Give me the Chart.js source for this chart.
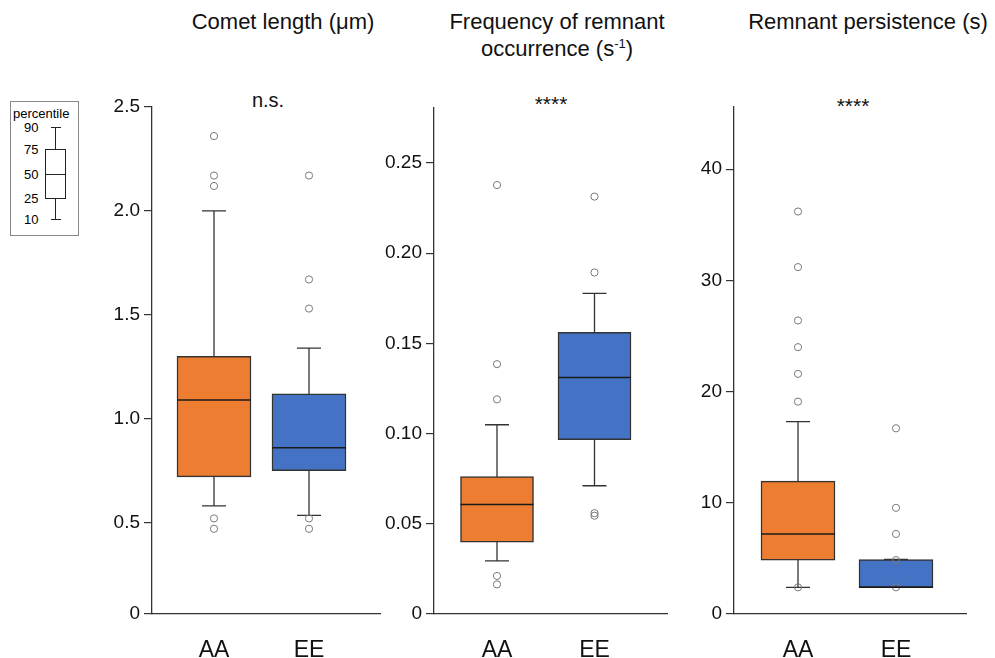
<!DOCTYPE html>
<html>
<head>
<meta charset="utf-8">
<script src="https://cdn.jsdelivr.net/npm/chart.js@4.4.0/dist/chart.umd.min.js"></script>
<style>
  body { margin: 0; width: 995px; height: 658px; position: relative; overflow: hidden; background: #fff;
         font-family: "Liberation Sans", Arial, sans-serif; color: #111; }
  .panel { position: absolute; top: 60px; height: 598px; }
  .titulo { position: absolute; font-size: 22px; line-height: 28px; text-align: center; white-space: nowrap; }
  .signo { position: absolute; font-size: 21px; line-height: 20px; text-align: center; white-space: nowrap; }
  .ley { position: absolute; font-size: 13px; line-height: 13px; color: #000; }
  .linea { position: absolute; background: #222; }
</style>
</head>
<body>

<!-- titulos -->
<div class="titulo" style="left:183px; top:8px; width:200px;">Comet length (μm)</div>
<div class="titulo" style="left:437px; top:8px; width:240px;">Frequency of remnant</div>
<div class="titulo" style="left:437px; top:35px; width:240px;">occurrence (s<span style="font-size:13px; position:relative; top:-8px;">-1</span>)</div>
<div class="titulo" style="left:743px; top:8px; width:250px;">Remnant persistence (s)</div>

<div class="signo" style="left:238px; top:90px; width:60px; font-size:20px;">n.s.</div>
<div class="signo" style="left:521px; top:94px; width:60px;">****</div>
<div class="signo" style="left:823px; top:96px; width:60px;">****</div>

<!-- leyenda de percentiles -->
<div style="position:absolute; left:10px; top:101px; width:67px; height:133px; border:1px solid #888;"></div>
<div class="ley" style="left:13px; top:107px;">percentile</div>
<div class="ley" style="left:24px; top:121px;">90</div>
<div class="ley" style="left:24px; top:143px;">75</div>
<div class="ley" style="left:24px; top:168px;">50</div>
<div class="ley" style="left:24px; top:192px;">25</div>
<div class="ley" style="left:24px; top:213px;">10</div>
<div class="linea" style="left:55px; top:128px; width:1px; height:92px;"></div>
<div class="linea" style="left:51px; top:127px; width:10px; height:1px;"></div>
<div class="linea" style="left:51px; top:219px; width:10px; height:1px;"></div>
<div style="position:absolute; left:45px; top:149px; width:19px; height:48px; border:1px solid #222; background:#fff;"></div>
<div class="linea" style="left:45px; top:174px; width:21px; height:1px;"></div>

<canvas id="chart-comet" class="panel"></canvas>
<canvas id="chart-frecuencia" class="panel"></canvas>
<canvas id="chart-persistencia" class="panel"></canvas>

<script>
'use strict';

// ====================
//  Datos
// ====================
const grupos = ['AA', 'EE'];
const coloresGrupo = ['#ED7D31', '#4472C4'];

// Comet length (µm)
const cometP10 = [0.58, 0.535];
const cometP25 = [0.72, 0.75];
const cometP50 = [1.09, 0.86];
const cometP75 = [1.30, 1.12];
const cometP90 = [2.00, 1.34];
const cometOutAA = [2.36, 2.17, 2.12, 0.52, 0.47];
const cometOutEE = [2.17, 1.67, 1.53, 0.52, 0.47];
const cometTicks = [0.06, 0.5, 1.0, 1.5, 2.0, 2.5];
const cometTickLabels = ['0', '0.5', '1.0', '1.5', '2.0', '2.5'];

// Frequency of remnant occurrence (s-1)
const frecP10 = [0.0295, 0.0711];
const frecP25 = [0.0398, 0.0967];
const frecP50 = [0.0607, 0.1311];
const frecP75 = [0.0762, 0.1561];
const frecP90 = [0.1049, 0.1777];
const frecOutAA = [0.2378, 0.1385, 0.1190, 0.0211, 0.0164];
const frecOutEE = [0.2314, 0.1893, 0.0559, 0.0545];
const frecTicks = [0, 0.05, 0.10, 0.15, 0.20, 0.25];
const frecTickLabels = ['0', '0.05', '0.10', '0.15', '0.20', '0.25'];

// Remnant persistence (s)
const persP10 = [2.4, 2.4];
const persP25 = [4.85, 2.4];
const persP50 = [7.2, 2.4];
const persP75 = [11.95, 4.9];
const persP90 = [17.3, 4.9];
const persOutAA = [36.2, 31.2, 26.4, 24.0, 21.6, 19.1, 2.4];
const persOutEE = [16.7, 9.55, 7.2, 4.85, 2.4];
const persTicks = [0, 10, 20, 30, 40];
const persTickLabels = ['0', '10', '20', '30', '40'];

// ====================
//  Plugin bigotes + mediana
// ====================
const pluginCajas = {
  id: 'cajas',
  beforeDatasetsDraw(chart, args, opts) {
    const ctx = chart.ctx;
    const xs = chart.scales.x;
    const ys = chart.scales.y;
    ctx.save();
    ctx.strokeStyle = '#333';
    ctx.lineWidth = 1.3;
    grupos.forEach(function (g, i) {
      const x = xs.getPixelForValue(i);
      const yBajo = ys.getPixelForValue(opts.p10[i]);
      const yAlto = ys.getPixelForValue(opts.p90[i]);
      ctx.beginPath();
      ctx.moveTo(x, yBajo);
      ctx.lineTo(x, yAlto);
      ctx.moveTo(x - 12, yBajo);
      ctx.lineTo(x + 12, yBajo);
      ctx.moveTo(x - 12, yAlto);
      ctx.lineTo(x + 12, yAlto);
      ctx.stroke();
    });
    ctx.restore();
  },
  afterDatasetsDraw(chart, args, opts) {
    const ctx = chart.ctx;
    const xs = chart.scales.x;
    const ys = chart.scales.y;
    ctx.save();
    ctx.strokeStyle = '#1a1a1a';
    ctx.lineWidth = 1.5;
    grupos.forEach(function (g, i) {
      const x = xs.getPixelForValue(i);
      const y = ys.getPixelForValue(opts.p50[i]);
      ctx.beginPath();
      ctx.moveTo(x - opts.ancho / 2, y);
      ctx.lineTo(x + opts.ancho / 2, y);
      ctx.stroke();
    });
    ctx.restore();
  }
};

// ====================
//  Construccion de cada panel
// ====================
function crearPanel(idCanvas, cfg) {
  const canvas = document.getElementById(idCanvas);
  const izq = 80;
  const der = 10;
  const anchoCanvas = cfg.areaDer - cfg.areaIzq + izq + der;
  canvas.style.left = (cfg.areaIzq - izq) + 'px';
  canvas.style.width = anchoCanvas + 'px';
  canvas.width = anchoCanvas;
  canvas.height = 598;

  const cajas = grupos.map(function (g, i) {
    return { x: i, y: [cfg.p25[i], cfg.p75[i]] };
  });
  const atipicos = []
    .concat(cfg.outAA.map(function (v) { return { x: 0, y: v }; }))
    .concat(cfg.outEE.map(function (v) { return { x: 1, y: v }; }));

  const xMin = -(cfg.centroAA - cfg.areaIzq) / (cfg.centroEE - cfg.centroAA);
  const xMax = 1 + (cfg.areaDer - cfg.centroEE) / (cfg.centroEE - cfg.centroAA);

  return new Chart(canvas.getContext('2d'), {
    type: 'bar',
    data: {
      datasets: [
        {
          type: 'bar',
          data: cajas,
          backgroundColor: coloresGrupo,
          borderColor: '#333',
          borderWidth: 1.5,
          borderSkipped: false,
          barThickness: cfg.anchoCaja,
          order: 2
        },
        {
          type: 'scatter',
          data: atipicos,
          pointRadius: 3.6,
          pointBorderWidth: 1,
          pointBackgroundColor: 'rgba(0,0,0,0)',
          pointBorderColor: '#7a7a7a',
          order: 1
        }
      ]
    },
    options: {
      responsive: false,
      animation: false,
      layout: { padding: { left: 0, right: der, top: cfg.areaSup - 60, bottom: 0 } },
      plugins: {
        legend: { display: false },
        tooltip: { enabled: false },
        cajas: { p10: cfg.p10, p50: cfg.p50, p90: cfg.p90, ancho: cfg.anchoCaja }
      },
      scales: {
        x: {
          type: 'linear',
          offset: false,
          min: xMin,
          max: xMax,
          afterBuildTicks: function (s) { s.ticks = [{ value: 0 }, { value: 1 }]; },
          afterFit: function (s) { s.height = 658 - 614; },
          ticks: {
            callback: function (v, i) { return grupos[i]; },
            font: { size: 23, family: '"Liberation Sans", Arial, sans-serif' },
            color: '#111',
            padding: 23
          },
          grid: { display: false, drawTicks: false },
          border: { display: true, color: '#333', width: 1.3 }
        },
        y: {
          min: cfg.yMin,
          max: cfg.yMax,
          afterBuildTicks: function (s) { s.ticks = cfg.ticks.map(function (v) { return { value: v }; }); },
          afterFit: function (s) { s.width = izq; },
          ticks: {
            callback: function (v, i) { return cfg.tickLabels[i]; },
            font: { size: 19, family: '"Liberation Sans", Arial, sans-serif' },
            color: '#111',
            padding: 4
          },
          grid: { display: true, drawOnChartArea: false, drawTicks: true, tickLength: 8, color: '#333', lineWidth: 1.2 },
          border: { display: true, color: '#333', width: 1.3 }
        }
      }
    },
    plugins: [pluginCajas]
  });
}

crearPanel('chart-comet', {
  areaIzq: 152, areaDer: 380, areaSup: 107, centroAA: 214, centroEE: 309, anchoCaja: 74,
  yMin: 0.06, yMax: 2.5, ticks: cometTicks, tickLabels: cometTickLabels,
  p10: cometP10, p25: cometP25, p50: cometP50, p75: cometP75, p90: cometP90,
  outAA: cometOutAA, outEE: cometOutEE
});

crearPanel('chart-frecuencia', {
  areaIzq: 434, areaDer: 667, areaSup: 108, centroAA: 497, centroEE: 594.5, anchoCaja: 73,
  yMin: 0, yMax: 0.2805, ticks: frecTicks, tickLabels: frecTickLabels,
  p10: frecP10, p25: frecP25, p50: frecP50, p75: frecP75, p90: frecP90,
  outAA: frecOutAA, outEE: frecOutEE
});

crearPanel('chart-persistencia', {
  areaIzq: 734, areaDer: 966, areaSup: 107, centroAA: 798, centroEE: 896, anchoCaja: 74,
  yMin: 0, yMax: 45.6, ticks: persTicks, tickLabels: persTickLabels,
  p10: persP10, p25: persP25, p50: persP50, p75: persP75, p90: persP90,
  outAA: persOutAA, outEE: persOutEE
});
</script>
</body>
</html>
